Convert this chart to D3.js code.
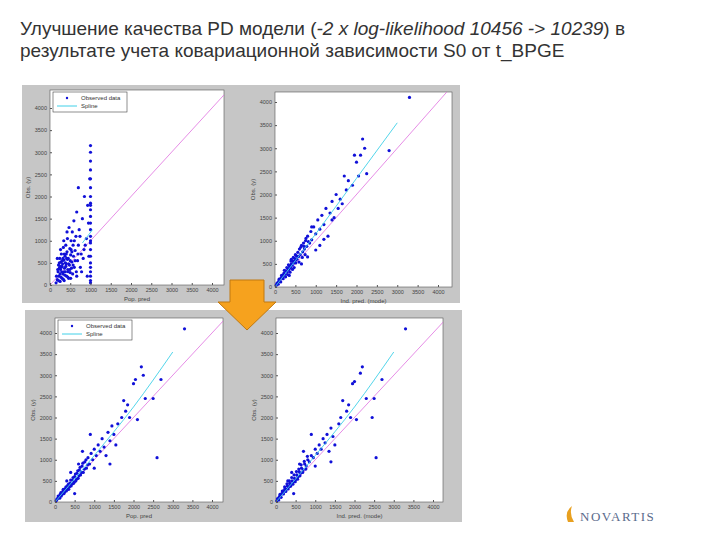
<!DOCTYPE html>
<html><head><meta charset="utf-8">
<script src="https://cdn.jsdelivr.net/npm/d3@7"></script>
<style>body{margin:0;background:#fff}</style></head>
<body><svg id="c" width="720" height="540"></svg>
<script>
const titleParts1 = [["Улучшение качества PD модели (",false],["-2 x log-likelihood 10456 -> 10239",true],[") в",false]];
const titleLine2 = "результате учета ковариационной зависимости S0 от  t_BPGE";
const ticks = [0,500,1000,1500,2000,2500,3000,3500,4000];
const legendLabels = ["Observed data","Spline"];
const xLabels = ["Pop. pred","Ind. pred. (mode)","Pop. pred","Ind. pred. (mode)"];
const yLabel = "Obs. (y)";
// panel 1: population prediction before covariate
const pts1 = [[150,50],[180,120],[200,300],[210,450],[220,200],[240,600],[250,80],[260,350],[270,520],[280,700],[300,150],[300,420],[320,250],[330,850],[340,560],[350,100],[360,380],[370,650],[380,300],[390,900],[400,480],[410,200],[420,750],[430,1050],[440,350],[450,600],[460,150],[470,1300],[480,450],[490,820],[500,280],[510,680],[520,1000],[530,380],[540,520],[550,1200],[560,250],[570,900],[580,650],[590,1450],[600,400],[620,780],[640,1100],[650,300],[660,1650],[680,550],[700,900],[720,1250],[750,400],[770,700],[800,1500],[820,600],[850,2000],[870,900],[900,1050],[920,200],[930,1800],[950,1400],[960,650],[980,2400],[1000,100],[1000,300],[1000,500],[1000,650],[1000,800],[1000,950],[1000,1100],[1000,1250],[1000,1400],[1000,1550],[1000,1700],[1000,1850],[1000,2000],[1000,2200],[1000,2400],[1000,2600],[1000,2800],[1000,3000],[1000,3150],[250,250],[300,550],[350,300],[400,700],[450,300],[380,500],[320,600],[280,400],[230,380],[430,580],[520,800],[600,1000],[700,2200],
 [160,200],[190,350],[210,100],[230,500],[250,420],[270,180],[290,300],[310,480],[330,130],[350,700],[370,220],[390,420],[410,600],[440,180],[460,480],[490,350],[510,150],[540,750],[570,450],[620,550],[660,200],[690,700],[740,1100],[780,300],[840,800],[180,600],[260,800],[340,1000],[420,1200],[500,550],[1000,50],[1000,200],[1000,400],[1000,1000],[1000,1800]];
// panel 2: individual prediction before covariate
const pts2 = [[30,40],[60,90],[90,120],[120,150],[150,200],[180,220],[200,260],[220,300],[250,280],[270,350],[300,330],[320,400],[340,380],[360,450],[380,420],[400,500],[420,470],[440,560],[460,520],[480,620],[500,580],[520,680],[540,600],[560,750],[580,660],[600,820],[620,700],[650,900],[680,760],[700,950],[720,820],[750,1000],[780,880],[800,1100],[850,950],[880,1200],[900,1020],[950,1300],[1000,1150],[1050,1450],[1100,1250],[1150,1550],[1200,1350],[1250,1700],[1300,1100],[1350,1600],[1400,1850],[1450,1500],[1500,2000],[1550,1700],[1600,1900],[1650,1800],[1700,2400],[1750,2100],[1800,2300],[1900,2200],[1950,2850],[2000,2700],[2050,2400],[2100,2850],[2150,3200],[2200,3000],[2250,2450],[2800,2950],[3300,4100],[1200,1030],[800,650],[900,1300],[1100,900],[1400,1450],[500,700],[400,600],[350,250],[650,500],[1000,800],
 [50,80],[80,60],[100,170],[140,110],[160,250],[200,180],[230,360],[260,220],[290,420],[310,270],[330,480],[370,320],[390,560],[430,380],[450,640],[470,420],[510,520],[550,660],[590,540],[630,860],[670,640],[710,880],[740,700],[760,1050],[820,980]];
// panel 3: population prediction after covariate
const pts3 = [[30,30],[60,80],[100,110],[130,180],[160,140],[200,250],[230,200],[260,320],[290,260],[320,380],[350,300],[380,450],[410,380],[440,520],[470,440],[500,600],[530,500],[560,680],[590,560],[620,760],[650,640],[690,850],[720,700],[760,950],[800,800],[840,1050],[880,900],[920,1150],[960,1000],[1000,1250],[1050,1100],[1100,1350],[1150,1200],[1200,1500],[1250,1300],[1300,1100],[1350,1650],[1400,1450],[1450,1800],[1500,1600],[1550,1350],[1600,1850],[1700,2000],[1750,2400],[1800,2150],[1850,2300],[1900,2000],[2000,2800],[2050,2900],[2100,1950],[2200,3200],[2250,3000],[2300,2450],[2600,1050],[2700,2900],[2500,2450],[3300,4100],[900,1600],[700,1200],[1000,800],[600,900],[500,200],[400,700],[300,500],[1400,900],
 [50,60],[80,140],[120,90],[150,220],[180,180],[210,300],[250,240],[280,360],[310,300],[340,420],[370,360],[400,520],[430,420],[460,580],[490,470],[520,660],[550,540],[580,740],[610,620],[640,820],[670,700],[710,920],[750,780],[790,1000],[830,880]];
// panel 4: individual prediction after covariate
const pts4 = [[20,30],[50,70],[80,120],[110,150],[140,190],[170,230],[200,270],[230,320],[260,300],[290,380],[320,360],[350,440],[380,410],[410,500],[440,470],[470,560],[500,530],[530,640],[560,600],[590,720],[620,680],[650,800],[690,760],[730,900],[770,850],[810,1000],[850,950],[900,1100],[950,1050],[1000,1250],[1050,1150],[1100,1350],[1150,1250],[1200,1500],[1250,1400],[1300,1600],[1350,1200],[1400,1750],[1450,1550],[1500,1350],[1600,1850],[1650,2000],[1700,2400],[1800,2150],[1850,2300],[1900,2000],[1950,2800],[2000,2850],[2050,1950],[2200,3200],[2150,3050],[2300,2450],[2450,2000],[2500,2450],[2550,1050],[2700,2900],[3300,4100],[900,1600],[700,1200],[1000,850],[600,900],[450,200],[400,700],[300,500],[1400,950],
 [40,80],[70,50],[100,180],[130,110],[160,260],[190,190],[220,360],[250,250],[280,430],[310,310],[340,500],[370,370],[400,580],[430,420],[460,640],[490,480],[520,720],[550,540],[580,780],[610,620],[640,880],[680,700],[720,960],[760,780],[800,1080]];
const splines = [[[800,950],[1050,1250]],[[0,0],[1000,1150],[2000,2350],[3000,3550]],[[0,0],[1000,1100],[2000,2250],[3000,3550]],[[0,0],[1000,1100],[2000,2250],[3000,3550]]];
const identity = [[0,0],[4300,4300]];
const panels = [
 {pts:pts1, plot:[50,90,224,285], x4:212, y4:108, legend:true},
 {pts:pts2, plot:[275,92,452,287], x4:438, y4:102, legend:false},
 {pts:pts3, plot:[55,318,223,502], x4:212, y4:333, legend:true},
 {pts:pts4, plot:[276,318,443,502], x4:433, y4:333, legend:false}
];
const svg = d3.select("#c");
const ff="Liberation Sans, Arial";
const t1=svg.append("text").attr("x",20).attr("y",35).attr("font-family",ff).attr("font-size",19).attr("fill","#333");
t1.selectAll("tspan").data(titleParts1).join("tspan").attr("font-style",d=>d[1]?"italic":"normal").text(d=>d[0]);
svg.append("text").attr("x",20).attr("y",57).attr("font-family",ff).attr("font-size",19).attr("fill","#333").text(titleLine2);
svg.append("rect").attr("x",22).attr("y",85).attr("width",438).attr("height",218).attr("fill","#c6c6c6");
svg.append("rect").attr("x",25).attr("y",310).attr("width",437).attr("height",212).attr("fill","#c6c6c6");
const fmt=d3.format("d");
panels.forEach((p,i)=>{
 const [l,t,r,b]=p.plot;
 const x=d3.scaleLinear().domain([0,4000]).range([l,p.x4]);
 const y=d3.scaleLinear().domain([0,4000]).range([b,p.y4]);
 const g=svg.append("g");
 g.append("rect").attr("x",l).attr("y",t).attr("width",r-l).attr("height",b-t).attr("fill","#fff").attr("stroke","#555").attr("stroke-width",0.6);
 const cp="cp"+i;
 g.append("clipPath").attr("id",cp).append("rect").attr("x",l).attr("y",t).attr("width",r-l).attr("height",b-t);
 const line=d3.line().x(d=>x(d[0])).y(d=>y(d[1])).curve(d3.curveMonotoneX);
 g.append("path").attr("clip-path",`url(#${cp})`).attr("d",line(identity)).attr("stroke","#e070e0").attr("stroke-width",0.8).attr("fill","none");
 g.selectAll("circle").data(p.pts).join("circle").attr("cx",d=>x(d[0])).attr("cy",d=>y(d[1])).attr("r",1.6).attr("fill","#1010d8");
 g.append("path").attr("d",line(splines[i])).attr("stroke","#40d0e8").attr("stroke-width",0.9).attr("fill","none");
 const xa=g.append("g").attr("transform",`translate(0,${b})`).call(d3.axisBottom(x).tickValues(ticks).tickFormat(fmt).tickSize(-2).tickPadding(3));
 const ya=g.append("g").attr("transform",`translate(${l},0)`).call(d3.axisLeft(y).tickValues(ticks).tickFormat(fmt).tickSize(-2).tickPadding(3));
 [xa,ya].forEach(a=>{a.select(".domain").remove();a.selectAll("line").attr("stroke","#555");a.selectAll("text").attr("font-size",5.5).attr("fill","#444").attr("font-family",ff);});
 g.append("text").attr("x",(l+r)/2).attr("y",b+16).attr("text-anchor","middle").attr("font-size",6).attr("fill","#444").attr("font-family",ff).text(xLabels[i]);
 g.append("text").attr("transform",`translate(${l-20},${(t+b)/2}) rotate(-90)`).attr("text-anchor","middle").attr("font-size",6).attr("fill","#444").attr("font-family",ff).text(yLabel);
 if(p.legend){
  const lg=g.append("g").attr("transform",`translate(${l+3},${t+2})`);
  lg.append("rect").attr("width",74).attr("height",20).attr("fill","#fff").attr("stroke","#444").attr("stroke-width",0.6);
  lg.append("circle").attr("cx",14).attr("cy",6).attr("r",1.2).attr("fill","#1010d8");
  lg.append("line").attr("x1",4).attr("x2",24).attr("y1",14).attr("y2",14).attr("stroke","#40d0e8");
  lg.selectAll("text").data(legendLabels).join("text").attr("x",28).attr("y",(d,k)=>8+k*8).attr("font-size",6).attr("fill","#333").attr("font-family",ff).text(d=>d);
 }
});
svg.append("path").attr("d","M230,280 L264,280 L264,302 L276,302 L247,330 L218,302 L230,302 Z").attr("fill","#f6a21e").attr("stroke","#c07810").attr("stroke-width",1);
svg.append("text").attr("x",580).attr("y",521).attr("font-family","Liberation Serif, serif").attr("font-size",13).attr("letter-spacing",1.5).attr("fill","#5a6b8c").text("NOVARTIS");
svg.append("path").attr("d","M568,522 q-4,-10 4,-16 q-3,8 2,16 Z").attr("fill","#e8a020");
</script></body></html>
